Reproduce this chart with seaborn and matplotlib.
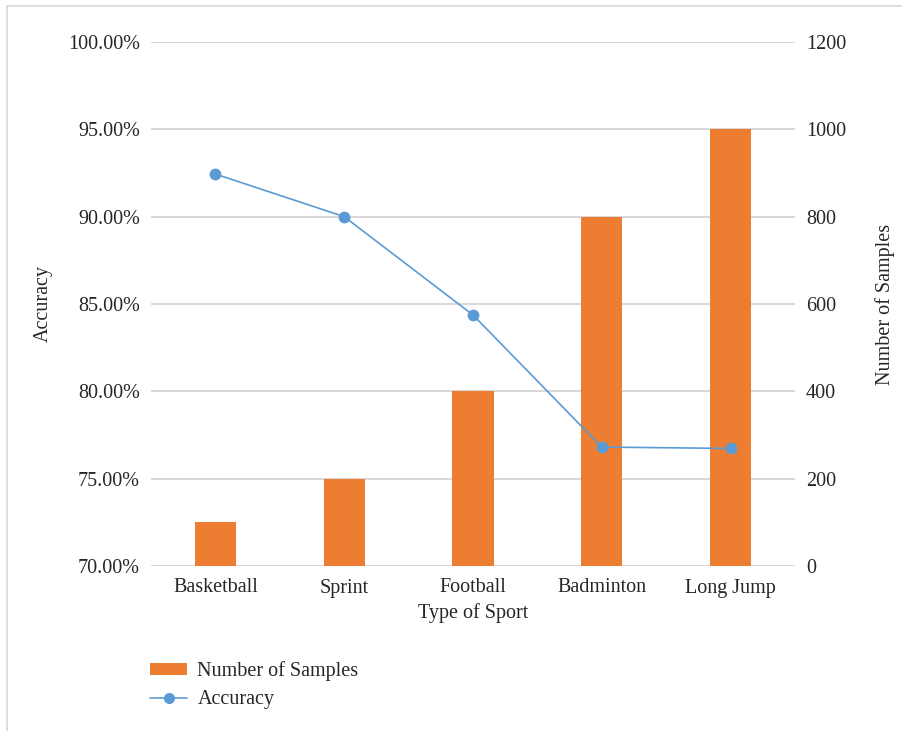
import matplotlib
matplotlib.use("Agg")
import matplotlib.pyplot as plt
import seaborn as sns
import numpy as np
from matplotlib.lines import Line2D
from matplotlib.patches import Patch
from matplotlib.ticker import FuncFormatter

sports = ["Basketball", "Sprint", "Football", "Badminton", "Long Jump"]
samples = [100, 200, 400, 800, 1000]
accuracy = [92.44, 90.0, 84.37, 76.81, 76.73]

acc_ticks = [70, 75, 80, 85, 90, 95, 100]
sample_ticks = [0, 200, 400, 600, 800, 1000, 1200]

bar_color = "#ED7D31"
line_color = "#5B9BD5"
text_color = "#262626"
fs = 14.5

sns.set_style("white")
plt.rcParams["font.family"] = ["Liberation Serif", "DejaVu Serif"]

fig = plt.figure(figsize=(9.03, 7.31), dpi=100)
ax_bar = fig.add_axes([151/903, 1-566/731, (795-151)/903, (566-42)/731])
ax_acc = ax_bar.twinx()

# bars (secondary axis on right)
sns.barplot(x=sports, y=samples, ax=ax_bar, color=bar_color, width=0.32,
            saturation=1, zorder=2, linewidth=0)
ax_bar.set_ylim(0, 1200)
ax_bar.set_yticks(sample_ticks)
ax_bar.yaxis.tick_right()
ax_bar.yaxis.set_label_position("right")
ax_bar.set_ylabel("Number of Samples", fontsize=fs, color=text_color, labelpad=21)
ax_bar.grid(axis="y", color="#d9d9d9", linewidth=1.5, zorder=0)
ax_bar.set_axisbelow(True)

# line (primary axis on left)
sns.lineplot(x=sports, y=accuracy, ax=ax_acc, color=line_color, marker="o",
             markersize=8.5, linewidth=1.2, markeredgewidth=0, sort=False)
ax_acc.set_ylim(70, 100)
ax_acc.set_yticks(acc_ticks)
ax_acc.yaxis.tick_left()
ax_acc.yaxis.set_label_position("left")
ax_acc.yaxis.set_major_formatter(FuncFormatter(lambda v, p: f"{v:.2f}%"))
ax_acc.set_ylabel("Accuracy", fontsize=fs, color=text_color, labelpad=11)

ax_bar.set_xlim(-0.5, 4.5)
ax_bar.set_xlabel("Type of Sport", fontsize=fs, color=text_color, labelpad=4)

for a in (ax_bar, ax_acc):
    for s in a.spines.values():
        s.set_visible(False)
    a.tick_params(axis="both", length=0, labelsize=fs, colors=text_color)
ax_bar.tick_params(axis="x", pad=9)
ax_bar.tick_params(axis="y", pad=8)
ax_acc.tick_params(axis="y", pad=8)

# legend
handles = [Patch(facecolor=bar_color, edgecolor="none", label="Number of Samples"),
           Line2D([0], [0], color=line_color, marker="o", markersize=8,
                  markeredgewidth=0, linewidth=1.2, label="Accuracy")]
fig.legend(handles=handles, loc="upper left", bbox_to_anchor=(132/903, 1-643/731),
           frameon=False, fontsize=fs, handlelength=1.85, handleheight=0.5,
           labelspacing=0.45, handletextpad=0.5, labelcolor=text_color)

# outer frame
fig.add_artist(Line2D([7/903, 7/903], [0, 1-6/731], transform=fig.transFigure,
                      color="#d9d9d9", linewidth=1.2))
fig.add_artist(Line2D([7/903, 1], [1-6/731, 1-6/731], transform=fig.transFigure,
                      color="#d9d9d9", linewidth=1.2))

fig.savefig("out.png", dpi=100)
